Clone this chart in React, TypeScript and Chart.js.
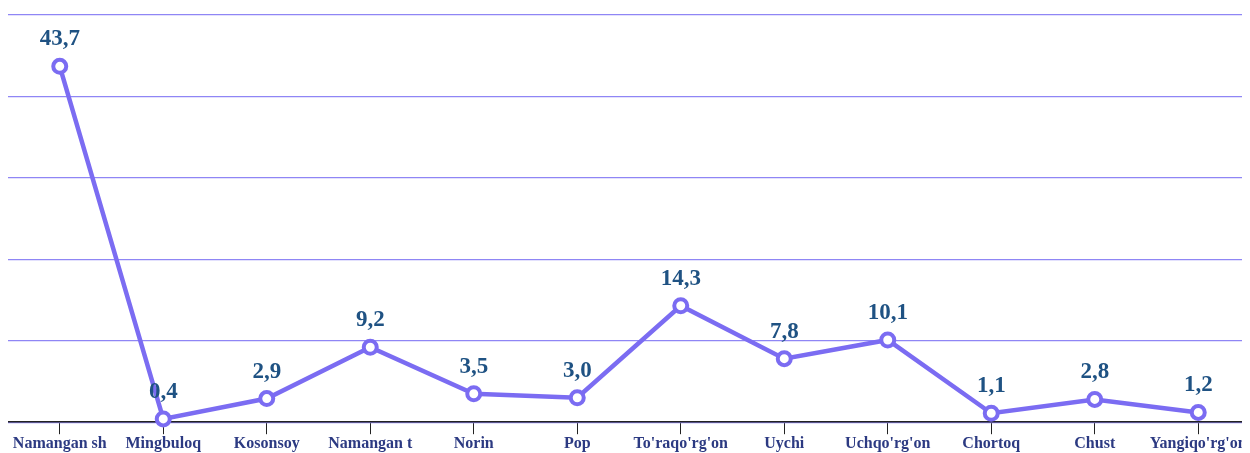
import React, { useEffect, useRef } from "react";
import { Chart, registerables } from "chart.js";

Chart.register(...registerables);

const categories = [
  "Namangan sh", "Mingbuloq", "Kosonsoy", "Namangan t", "Norin", "Pop",
  "To'raqo'rg'on", "Uychi", "Uchqo'rg'on", "Chortoq", "Chust", "Yangiqo'rg'on",
];
const values = [43.7, 0.4, 2.9, 9.2, 3.5, 3.0, 14.3, 7.8, 10.1, 1.1, 2.8, 1.2];

const LINE = "#7b6cf2";
const LABEL = "#1f5283";
const XLABEL = "#2c3a82";
const FONT = "'Liberation Serif', 'Times New Roman', serif";

const valueLabels = {
  id: "valueLabels",
  afterDatasetsDraw(chart: any) {
    const ctx = chart.ctx;
    const meta = chart.getDatasetMeta(0);
    ctx.save();
    ctx.font = `bold 23px ${FONT}`;
    ctx.fillStyle = LABEL;
    ctx.textAlign = "center";
    ctx.textBaseline = "alphabetic";
    meta.data.forEach((pt: any, i: number) => {
      const txt = values[i].toFixed(1).replace(".", ",");
      ctx.fillText(txt, pt.x, pt.y - 21);
    });
    ctx.restore();
  },
};

export default function App() {
  const ref = useRef<HTMLCanvasElement>(null);
  useEffect(() => {
    if (!ref.current) return;
    const chart = new Chart(ref.current, {
      type: "line",
      data: {
        labels: categories,
        datasets: [
          {
            data: values,
            borderColor: LINE,
            borderWidth: 4.5,
            pointRadius: 6.5,
            pointBorderWidth: 4,
            pointBackgroundColor: "#ffffff",
            pointBorderColor: LINE,
            tension: 0,
            clip: false,
          },
        ],
      },
      options: {
        animation: false,
        responsive: true,
        maintainAspectRatio: false,
        layout: { autoPadding: false, padding: { top: 7, left: 0, right: 0, bottom: 0 } },
        plugins: { legend: { display: false }, tooltip: { enabled: false } },
        scales: {
          x: {
            offset: true,
            afterFit(scale: any) {
              scale.paddingLeft = 0;
              scale.paddingRight = 0;
            },
            grid: { drawOnChartArea: false, drawTicks: true, tickLength: 12, color: "#222" },
            border: { color: "#222", width: 1.5 },
            ticks: {
              color: XLABEL,
              font: { family: FONT, size: 16, weight: "bold", lineHeight: 1.05 },
              padding: 1,
              maxRotation: 0,
              autoSkip: false,
            },
          },
          y: {
            min: 0,
            max: 50,
            afterFit(scale: any) {
              scale.width = 0;
              scale.paddingTop = 0;
              scale.paddingBottom = 0;
            },
            ticks: { display: false, stepSize: 10 },
            grid: { drawTicks: false, color: "#8f86f5", lineWidth: 1.2 },
            border: { display: false },
          },
        },
      },
      plugins: [valueLabels],
    });
    return () => chart.destroy();
  }, []);
  return (
    <div style={{ width: 1242, height: 445, position: "relative" }}>
      <canvas ref={ref} />
    </div>
  );
}
